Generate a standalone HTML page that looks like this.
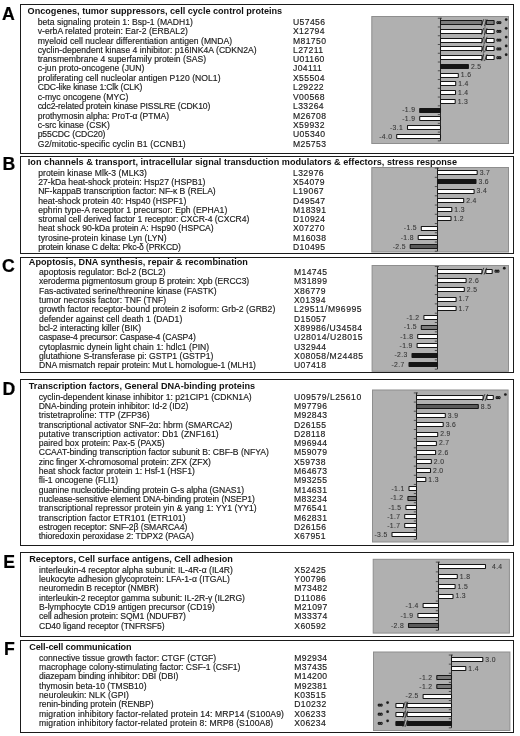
<!DOCTYPE html>
<html><head><meta charset="utf-8"><style>
html,body{margin:0;padding:0;background:#fff;}
body{width:520px;height:736px;overflow:hidden;position:relative;font-family:"Liberation Sans",sans-serif;color:#111;}
#w{position:absolute;left:0;top:0;width:520px;height:736px;will-change:transform;}
.a{position:absolute;white-space:nowrap;line-height:1;-webkit-text-stroke:0.15px #1a1a1a;}
.L{font-weight:bold;font-size:17.7px;color:#000;-webkit-text-stroke:0.2px #000;}
.h{font-weight:bold;font-size:9.12px;color:#111;-webkit-text-stroke:0;}
.i{font-size:8.61px;color:#1a1a1a;}
.c{font-size:8.6px;color:#1a1a1a;letter-spacing:0.38px;}
.box{position:absolute;border:1px solid #1a1a1a;box-sizing:border-box;}
svg{position:absolute;left:0;top:0;}
</style></head><body><div id="w">
<div class="a L" style="left:2px;top:6.07px">A</div>
<div class="box" style="left:20px;top:4px;width:494px;height:150px"></div>
<div class="a h" style="left:27.6px;top:7px;letter-spacing:-0.01px">Oncogenes, tumor suppressors, cell cycle control proteins</div>
<div class="a i" style="left:37.7px;top:18px;letter-spacing:0.026px">beta signaling protein 1: Bsp-1 (MADH1)</div>
<div class="a c" style="left:293.0px;top:18px">U57456</div>
<div class="a i" style="left:37.7px;top:27px;letter-spacing:0.03px">v-erbA related protein: Ear-2 (ERBAL2)</div>
<div class="a c" style="left:293.0px;top:27px">X12794</div>
<div class="a i" style="left:37.7px;top:37px;letter-spacing:0.024px">myeloid cell nuclear differentiation antigen (MNDA)</div>
<div class="a c" style="left:293.0px;top:37px">M81750</div>
<div class="a i" style="left:37.7px;top:46px;letter-spacing:0.013px">cyclin-dependent kinase 4 inhibitor: p16INK4A (CDKN2A)</div>
<div class="a c" style="left:293.0px;top:46px">L27211</div>
<div class="a i" style="left:37.7px;top:55px;letter-spacing:0.017px">transmembrane 4 superfamily protein (SAS)</div>
<div class="a c" style="left:293.0px;top:55px">U01160</div>
<div class="a i" style="left:37.7px;top:64px;letter-spacing:0.024px">c-jun proto-oncogene (JUN)</div>
<div class="a c" style="left:293.0px;top:64px">J04111</div>
<div class="a i" style="left:37.7px;top:74px;letter-spacing:0.038px">proliferating cell nucleolar antigen P120 (NOL1)</div>
<div class="a c" style="left:293.0px;top:74px">X55504</div>
<div class="a i" style="left:37.7px;top:83px;letter-spacing:-0.142px">CDC-like kinase 1:Clk (CLK)</div>
<div class="a c" style="left:293.0px;top:83px">L29222</div>
<div class="a i" style="left:37.7px;top:93px;letter-spacing:0.016px">c-myc oncogene (MYC)</div>
<div class="a c" style="left:293.0px;top:93px">V00568</div>
<div class="a i" style="left:37.7px;top:102px;letter-spacing:-0.119px">cdc2-related protein kinase PISSLRE (CDK10)</div>
<div class="a c" style="left:293.0px;top:102px">L33264</div>
<div class="a i" style="left:37.7px;top:112px;letter-spacing:-0.048px">prothymosin alpha: ProT-&alpha; (PTMA)</div>
<div class="a c" style="left:293.0px;top:112px">M26708</div>
<div class="a i" style="left:37.7px;top:121px;letter-spacing:0.029px">c-src kinase (CSK)</div>
<div class="a c" style="left:293.0px;top:121px">X59932</div>
<div class="a i" style="left:37.7px;top:130px;letter-spacing:-0.115px">p55CDC (CDC20)</div>
<div class="a c" style="left:293.0px;top:130px">U05340</div>
<div class="a i" style="left:37.7px;top:140px;letter-spacing:0.106px">G2/mitotic-specific cyclin B1 (CCNB1)</div>
<div class="a c" style="left:293.0px;top:140px">M25753</div>
<div class="a L" style="left:2.6px;top:155.77px">B</div>
<div class="box" style="left:20px;top:156px;width:494px;height:98px"></div>
<div class="a h" style="left:27.8px;top:158px;letter-spacing:0.015px">Ion channels &amp; transport, intracellular signal transduction modulators &amp; effectors, stress response</div>
<div class="a i" style="left:38.2px;top:169px;letter-spacing:0.05px">protein kinase Mlk-3 (MLK3)</div>
<div class="a c" style="left:293.0px;top:169px">L32976</div>
<div class="a i" style="left:38.2px;top:178px;letter-spacing:0.01px">27-kDa heat-shock protein: Hsp27 (HSPB1)</div>
<div class="a c" style="left:293.0px;top:178px">X54079</div>
<div class="a i" style="left:38.2px;top:187px;letter-spacing:-0.025px">NF-kappaB transcription factor: NF-&kappa; B (RELA)</div>
<div class="a c" style="left:293.0px;top:187px">L19067</div>
<div class="a i" style="left:38.2px;top:197px">heat-shock protein 40: Hsp40 (HSPF1)</div>
<div class="a c" style="left:293.0px;top:197px">D49547</div>
<div class="a i" style="left:38.2px;top:206px;letter-spacing:0.05px">ephrin type-A receptor 1 precursor: Eph (EPHA1)</div>
<div class="a c" style="left:293.0px;top:206px">M18391</div>
<div class="a i" style="left:38.2px;top:215px;letter-spacing:-0.034px">stromal cell derived factor 1 receptor: CXCR-4 (CXCR4)</div>
<div class="a c" style="left:293.0px;top:215px">D10924</div>
<div class="a i" style="left:38.2px;top:224px;letter-spacing:0.005px">heat shock 90-kDa protein A: Hsp90 (HSPCA)</div>
<div class="a c" style="left:293.0px;top:224px">X07270</div>
<div class="a i" style="left:38.2px;top:234px;letter-spacing:0.059px">tyrosine-protein kinase Lyn (LYN)</div>
<div class="a c" style="left:293.0px;top:234px">M16038</div>
<div class="a i" style="left:38.2px;top:243px;letter-spacing:-0.15px">protein kinase C delta: Pkc-&delta; (PRKCD)</div>
<div class="a c" style="left:293.0px;top:243px">D10495</div>
<div class="a L" style="left:2px;top:257.57px">C</div>
<div class="box" style="left:20px;top:257px;width:494px;height:116px"></div>
<div class="a h" style="left:28.8px;top:258px;letter-spacing:0.017px">Apoptosis, DNA synthesis, repair &amp; recombination</div>
<div class="a i" style="left:39.1px;top:268px;letter-spacing:-0.013px">apoptosis regulator: Bcl-2 (BCL2)</div>
<div class="a c" style="left:294.0px;top:268px">M14745</div>
<div class="a i" style="left:39.1px;top:277px;letter-spacing:-0.069px">xeroderma pigmentosum group B protein: Xpb (ERCC3)</div>
<div class="a c" style="left:294.0px;top:277px">M31899</div>
<div class="a i" style="left:39.1px;top:287px;letter-spacing:-0.014px">Fas-activated serine/threonine kinase (FASTK)</div>
<div class="a c" style="left:294.0px;top:287px">X86779</div>
<div class="a i" style="left:39.1px;top:296px;letter-spacing:0.019px">tumor necrosis factor: TNF (TNF)</div>
<div class="a c" style="left:294.0px;top:296px">X01394</div>
<div class="a i" style="left:39.1px;top:305px;letter-spacing:0.02px">growth factor receptor-bound protein 2 isoform: Grb-2 (GRB2)</div>
<div class="a c" style="left:294.0px;top:305px;letter-spacing:0.5px">L29511/M96995</div>
<div class="a i" style="left:39.1px;top:315px;letter-spacing:0.051px">defender against cell death 1 (DAD1)</div>
<div class="a c" style="left:294.0px;top:315px">D15057</div>
<div class="a i" style="left:39.1px;top:324px;letter-spacing:-0.024px">bcl-2 interacting killer (BIK)</div>
<div class="a c" style="left:294.0px;top:324px;letter-spacing:0.5px">X89986/U34584</div>
<div class="a i" style="left:39.1px;top:333px;letter-spacing:-0.116px">caspase-4 precursor: Caspase-4 (CASP4)</div>
<div class="a c" style="left:294.0px;top:333px;letter-spacing:0.5px">U28014/U28015</div>
<div class="a i" style="left:39.1px;top:343px;letter-spacing:0.034px">cytoplasmic dynein light chain 1: hdlc1 (PIN)</div>
<div class="a c" style="left:294.0px;top:343px">U32944</div>
<div class="a i" style="left:39.1px;top:352px">glutathione S-transferase pi: GSTP1 (GSTP1)</div>
<div class="a c" style="left:294.0px;top:352px;letter-spacing:0.5px">X08058/M24485</div>
<div class="a i" style="left:39.1px;top:361px;letter-spacing:-0.048px">DNA mismatch repair protein: Mut L homologue-1 (MLH1)</div>
<div class="a c" style="left:294.0px;top:361px">U07418</div>
<div class="a L" style="left:2.4px;top:381.17px">D</div>
<div class="box" style="left:20px;top:379px;width:494px;height:167px"></div>
<div class="a h" style="left:28.8px;top:382px;letter-spacing:0px">Transcription factors, General DNA-binding proteins</div>
<div class="a i" style="left:38.7px;top:393px">cyclin-dependent kinase inhibitor 1: p21CIP1 (CDKN1A)</div>
<div class="a c" style="left:294.0px;top:393px;letter-spacing:0.5px">U09579/L25610</div>
<div class="a i" style="left:38.7px;top:402px;letter-spacing:-0.033px">DNA-binding protein inhibitor: Id-2 (ID2)</div>
<div class="a c" style="left:294.0px;top:402px">M97796</div>
<div class="a i" style="left:38.7px;top:411px;letter-spacing:0.068px">tristetraproline: TTP (ZFP36)</div>
<div class="a c" style="left:294.0px;top:411px">M92843</div>
<div class="a i" style="left:38.7px;top:421px;letter-spacing:-0.021px">transcriptional activator SNF-2&alpha;: hbrm (SMARCA2)</div>
<div class="a c" style="left:294.0px;top:421px">D26155</div>
<div class="a i" style="left:38.7px;top:430px;letter-spacing:0.136px">putative transcription activator: Db1 (ZNF161)</div>
<div class="a c" style="left:294.0px;top:430px">D28118</div>
<div class="a i" style="left:38.7px;top:439px;letter-spacing:0.016px">paired box protein: Pax-5 (PAX5)</div>
<div class="a c" style="left:294.0px;top:439px">M96944</div>
<div class="a i" style="left:38.7px;top:448px;letter-spacing:-0.012px">CCAAT-binding transcription factor subunit B: CBF-B (NFYA)</div>
<div class="a c" style="left:294.0px;top:448px">M59079</div>
<div class="a i" style="left:38.7px;top:458px;letter-spacing:-0.081px">zinc finger X-chromosomal protein: ZFX (ZFX)</div>
<div class="a c" style="left:294.0px;top:458px">X59738</div>
<div class="a i" style="left:38.7px;top:467px;letter-spacing:-0.01px">heat shock factor protein 1: Hsf-1 (HSF1)</div>
<div class="a c" style="left:294.0px;top:467px">M64673</div>
<div class="a i" style="left:38.7px;top:476px;letter-spacing:0.005px">fli-1 oncogene (FLI1)</div>
<div class="a c" style="left:294.0px;top:476px">M93255</div>
<div class="a i" style="left:38.7px;top:486px;letter-spacing:-0.057px">guanine nucleotide-binding protein G-s alpha (GNAS1)</div>
<div class="a c" style="left:294.0px;top:486px">M14631</div>
<div class="a i" style="left:38.7px;top:495px;letter-spacing:-0.066px">nuclease-sensitive element DNA-binding protein (NSEP1)</div>
<div class="a c" style="left:294.0px;top:495px">M83234</div>
<div class="a i" style="left:38.7px;top:504px;letter-spacing:0.039px">transcriptional repressor protein yin &amp; yang 1: YY1 (YY1)</div>
<div class="a c" style="left:294.0px;top:504px">M76541</div>
<div class="a i" style="left:38.7px;top:514px;letter-spacing:0.074px">transcription factor ETR101 (ETR101)</div>
<div class="a c" style="left:294.0px;top:514px">M62831</div>
<div class="a i" style="left:38.7px;top:523px;letter-spacing:-0.088px">estrogen receptor: SNF-2&beta; (SMARCA4)</div>
<div class="a c" style="left:294.0px;top:523px">D26156</div>
<div class="a i" style="left:38.7px;top:532px;letter-spacing:-0.057px">thioredoxin peroxidase 2: TDPX2 (PAGA)</div>
<div class="a c" style="left:294.0px;top:532px">X67951</div>
<div class="a L" style="left:3.2px;top:553.87px">E</div>
<div class="box" style="left:20px;top:552px;width:494px;height:85px"></div>
<div class="a h" style="left:29.2px;top:555px;letter-spacing:-0.039px">Receptors, Cell surface antigens, Cell adhesion</div>
<div class="a i" style="left:39.1px;top:566px;letter-spacing:-0.006px">interleukin-4 receptor alpha subunit: IL-4R-&alpha; (IL4R)</div>
<div class="a c" style="left:294.3px;top:566px">X52425</div>
<div class="a i" style="left:39.1px;top:575px">leukocyte adhesion glycoprotein: LFA-1-&alpha; (ITGAL)</div>
<div class="a c" style="left:294.3px;top:575px">Y00796</div>
<div class="a i" style="left:39.1px;top:584px;letter-spacing:-0.052px">neuromedin B receptor (NMBR)</div>
<div class="a c" style="left:294.3px;top:584px">M73482</div>
<div class="a i" style="left:39.1px;top:594px;letter-spacing:-0.037px">interleukin-2 receptor gamma subunit: IL-2R-&gamma; (IL2RG)</div>
<div class="a c" style="left:294.3px;top:594px">D11086</div>
<div class="a i" style="left:39.1px;top:603px">B-lymphocyte CD19 antigen precursor (CD19)</div>
<div class="a c" style="left:294.3px;top:603px">M21097</div>
<div class="a i" style="left:39.1px;top:612px;letter-spacing:-0.106px">cell adhesion protein: SQM1 (NDUFB7)</div>
<div class="a c" style="left:294.3px;top:612px">M33374</div>
<div class="a i" style="left:39.1px;top:622px;letter-spacing:-0.086px">CD40 ligand receptor (TNFRSF5)</div>
<div class="a c" style="left:294.3px;top:622px">X60592</div>
<div class="a L" style="left:4px;top:641.27px">F</div>
<div class="box" style="left:20px;top:640px;width:494px;height:93px"></div>
<div class="a h" style="left:29.2px;top:643px;letter-spacing:-0.109px">Cell-cell communication</div>
<div class="a i" style="left:39.05px;top:654px;letter-spacing:-0.012px">connective tissue growth factor: CTGF (CTGF)</div>
<div class="a c" style="left:294.2px;top:654px">M92934</div>
<div class="a i" style="left:39.05px;top:663px;letter-spacing:-0.022px">macrophage colony-stimulating factor: CSF-1 (CSF1)</div>
<div class="a c" style="left:294.2px;top:663px">M37435</div>
<div class="a i" style="left:39.05px;top:672px;letter-spacing:-0.058px">diazepam binding inhibitor: DBI (DBI)</div>
<div class="a c" style="left:294.2px;top:672px">M14200</div>
<div class="a i" style="left:39.05px;top:682px">thymosin beta-10 (TMSB10)</div>
<div class="a c" style="left:294.2px;top:682px">M92381</div>
<div class="a i" style="left:39.05px;top:691px;letter-spacing:0.043px">neuroleukin: NLK (GPI)</div>
<div class="a c" style="left:294.2px;top:691px">K03515</div>
<div class="a i" style="left:39.05px;top:700px;letter-spacing:-0.057px">renin-binding protein (RENBP)</div>
<div class="a c" style="left:294.2px;top:700px">D10232</div>
<div class="a i" style="left:39.05px;top:710px;letter-spacing:0.115px">migration inhibitory factor-related protein 14: MRP14 (S100A9)</div>
<div class="a c" style="left:294.2px;top:710px">X06233</div>
<div class="a i" style="left:39.05px;top:719px;letter-spacing:0.098px">migration inhibitory factor-related protein 8: MRP8 (S100A8)</div>
<div class="a c" style="left:294.2px;top:719px">X06234</div>
<svg width="520" height="736" viewBox="0 0 520 736" font-family="Liberation Sans" font-size="6.8" fill="#383838" letter-spacing="0.35" stroke="#383838" stroke-width="0.1">
<rect x="371.8" y="16.5" width="136.7" height="127" fill="#b0b0b0" stroke="#8e8e8e" stroke-width="1"/>
<line x1="440.5" y1="17.92" x2="440.5" y2="140.86" stroke="#262626" stroke-width="1"/>
<line x1="437.8" y1="18.22" x2="442" y2="18.22" stroke="#333" stroke-width="0.8"/>
<line x1="437.8" y1="26.98" x2="440.4" y2="26.98" stroke="#333" stroke-width="0.8"/>
<line x1="437.8" y1="35.74" x2="440.4" y2="35.74" stroke="#333" stroke-width="0.8"/>
<line x1="437.8" y1="44.5" x2="440.4" y2="44.5" stroke="#333" stroke-width="0.8"/>
<line x1="437.8" y1="53.26" x2="440.4" y2="53.26" stroke="#333" stroke-width="0.8"/>
<line x1="437.8" y1="62.02" x2="440.4" y2="62.02" stroke="#333" stroke-width="0.8"/>
<line x1="437.8" y1="70.78" x2="440.4" y2="70.78" stroke="#333" stroke-width="0.8"/>
<line x1="437.8" y1="79.54" x2="440.4" y2="79.54" stroke="#333" stroke-width="0.8"/>
<line x1="437.8" y1="88.3" x2="440.4" y2="88.3" stroke="#333" stroke-width="0.8"/>
<line x1="437.8" y1="97.06" x2="440.4" y2="97.06" stroke="#333" stroke-width="0.8"/>
<line x1="437.8" y1="105.82" x2="440.4" y2="105.82" stroke="#333" stroke-width="0.8"/>
<line x1="437.8" y1="114.58" x2="440.4" y2="114.58" stroke="#333" stroke-width="0.8"/>
<line x1="437.8" y1="123.34" x2="440.4" y2="123.34" stroke="#333" stroke-width="0.8"/>
<line x1="437.8" y1="132.1" x2="440.4" y2="132.1" stroke="#333" stroke-width="0.8"/>
<line x1="437.8" y1="140.86" x2="440.4" y2="140.86" stroke="#333" stroke-width="0.8"/>
<line x1="485.45" y1="19.1" x2="482.85" y2="61.14" stroke="#3a3a3a" stroke-width="0.6"/>
<rect x="440.5" y="20.5" width="41.5" height="4" fill="#7c7c7c" stroke="#151515" stroke-width="1.05" rx="0.3"/>
<rect x="486.3" y="20.5" width="7.8" height="4" fill="#7c7c7c" stroke="#151515" stroke-width="1.05" rx="0.3"/>
<path d="M481.2 26 L483.8 19.2 M484.5 26 L487.1 19.2" stroke="#1e1e1e" stroke-width="0.75" fill="none"/>
<g fill="none" stroke="#1a1a1a" stroke-width="1.15"><ellipse cx="497.85" cy="22.6" rx="1.0" ry="1.05"/><ellipse cx="499.95" cy="22.6" rx="1.0" ry="1.05"/></g>
<circle cx="506.2" cy="19.6" r="1.35" fill="#1a1a1a"/>
<rect x="440.5" y="29.5" width="41.5" height="4" fill="#fff" stroke="#151515" stroke-width="1.05" rx="0.3"/>
<rect x="486.3" y="29.5" width="7.8" height="4" fill="#fff" stroke="#151515" stroke-width="1.05" rx="0.3"/>
<path d="M481.2 34.76 L483.8 27.96 M484.5 34.76 L487.1 27.96" stroke="#1e1e1e" stroke-width="0.75" fill="none"/>
<g fill="none" stroke="#1a1a1a" stroke-width="1.15"><ellipse cx="497.85" cy="31.36" rx="1.0" ry="1.05"/><ellipse cx="499.95" cy="31.36" rx="1.0" ry="1.05"/></g>
<circle cx="506.2" cy="28.36" r="1.35" fill="#1a1a1a"/>
<rect x="440.5" y="38.5" width="41.5" height="4" fill="#fff" stroke="#151515" stroke-width="1.05" rx="0.3"/>
<rect x="486.3" y="38.5" width="7.8" height="4" fill="#fff" stroke="#151515" stroke-width="1.05" rx="0.3"/>
<path d="M481.2 43.52 L483.8 36.72 M484.5 43.52 L487.1 36.72" stroke="#1e1e1e" stroke-width="0.75" fill="none"/>
<g fill="none" stroke="#1a1a1a" stroke-width="1.15"><ellipse cx="497.85" cy="40.12" rx="1.0" ry="1.05"/><ellipse cx="499.95" cy="40.12" rx="1.0" ry="1.05"/></g>
<circle cx="506.2" cy="37.12" r="1.35" fill="#1a1a1a"/>
<rect x="440.5" y="46.5" width="41.5" height="4" fill="#fff" stroke="#151515" stroke-width="1.05" rx="0.3"/>
<rect x="486.3" y="46.5" width="7.8" height="4" fill="#fff" stroke="#151515" stroke-width="1.05" rx="0.3"/>
<path d="M481.2 52.28 L483.8 45.48 M484.5 52.28 L487.1 45.48" stroke="#1e1e1e" stroke-width="0.75" fill="none"/>
<g fill="none" stroke="#1a1a1a" stroke-width="1.15"><ellipse cx="497.85" cy="48.88" rx="1.0" ry="1.05"/><ellipse cx="499.95" cy="48.88" rx="1.0" ry="1.05"/></g>
<circle cx="506.2" cy="45.88" r="1.35" fill="#1a1a1a"/>
<rect x="440.5" y="55.5" width="41.5" height="4" fill="#fff" stroke="#151515" stroke-width="1.05" rx="0.3"/>
<rect x="486.3" y="55.5" width="7.8" height="4" fill="#fff" stroke="#151515" stroke-width="1.05" rx="0.3"/>
<path d="M481.2 61.04 L483.8 54.24 M484.5 61.04 L487.1 54.24" stroke="#1e1e1e" stroke-width="0.75" fill="none"/>
<g fill="none" stroke="#1a1a1a" stroke-width="1.15"><ellipse cx="497.85" cy="57.64" rx="1.0" ry="1.05"/><ellipse cx="499.95" cy="57.64" rx="1.0" ry="1.05"/></g>
<circle cx="506.2" cy="54.64" r="1.35" fill="#1a1a1a"/>
<rect x="440.5" y="64.5" width="27.9" height="4" fill="#141414" stroke="#151515" stroke-width="1.05" rx="0.3"/>
<text x="470.9" y="68.6">2.5</text>
<rect x="440.5" y="73.5" width="17.8" height="4" fill="#fff" stroke="#151515" stroke-width="1.05" rx="0.3"/>
<text x="460.8" y="77.36">1.6</text>
<rect x="440.5" y="81.5" width="15.2" height="4" fill="#fff" stroke="#151515" stroke-width="1.05" rx="0.3"/>
<text x="458.2" y="86.12">1.4</text>
<rect x="440.5" y="90.5" width="15" height="4" fill="#fff" stroke="#151515" stroke-width="1.05" rx="0.3"/>
<text x="458" y="94.88">1.4</text>
<rect x="440.5" y="99.5" width="14.7" height="4" fill="#fff" stroke="#151515" stroke-width="1.05" rx="0.3"/>
<text x="457.7" y="103.64">1.3</text>
<rect x="419.7" y="108.5" width="20.8" height="4" fill="#141414" stroke="#151515" stroke-width="1.05" rx="0.3"/>
<text x="415.3" y="112.4" text-anchor="end">-1.9</text>
<rect x="419.7" y="116.5" width="20.8" height="4" fill="#fff" stroke="#151515" stroke-width="1.05" rx="0.3"/>
<text x="415.3" y="121.16" text-anchor="end">-1.9</text>
<rect x="407.5" y="125.5" width="33" height="4" fill="#fff" stroke="#151515" stroke-width="1.05" rx="0.3"/>
<text x="403.1" y="129.92" text-anchor="end">-3.1</text>
<rect x="396.7" y="134.5" width="43.8" height="4" fill="#fff" stroke="#151515" stroke-width="1.05" rx="0.3"/>
<text x="392.3" y="138.68" text-anchor="end">-4.0</text>
<rect x="371.8" y="167.5" width="136.7" height="84.5" fill="#b0b0b0" stroke="#8e8e8e" stroke-width="1"/>
<line x1="437.5" y1="167.78" x2="437.5" y2="251.24" stroke="#262626" stroke-width="1"/>
<line x1="434.8" y1="168.08" x2="439" y2="168.08" stroke="#333" stroke-width="0.8"/>
<line x1="434.8" y1="177.32" x2="437.4" y2="177.32" stroke="#333" stroke-width="0.8"/>
<line x1="434.8" y1="186.56" x2="437.4" y2="186.56" stroke="#333" stroke-width="0.8"/>
<line x1="434.8" y1="195.8" x2="437.4" y2="195.8" stroke="#333" stroke-width="0.8"/>
<line x1="434.8" y1="205.04" x2="437.4" y2="205.04" stroke="#333" stroke-width="0.8"/>
<line x1="434.8" y1="214.28" x2="437.4" y2="214.28" stroke="#333" stroke-width="0.8"/>
<line x1="434.8" y1="223.52" x2="437.4" y2="223.52" stroke="#333" stroke-width="0.8"/>
<line x1="434.8" y1="232.76" x2="437.4" y2="232.76" stroke="#333" stroke-width="0.8"/>
<line x1="434.8" y1="242" x2="437.4" y2="242" stroke="#333" stroke-width="0.8"/>
<line x1="434.8" y1="251.24" x2="437.4" y2="251.24" stroke="#333" stroke-width="0.8"/>
<rect x="437.5" y="170.5" width="39.7" height="4" fill="#fff" stroke="#151515" stroke-width="1.05" rx="0.3"/>
<text x="479.7" y="174.9">3.7</text>
<rect x="437.5" y="179.5" width="38.5" height="4" fill="#141414" stroke="#151515" stroke-width="1.05" rx="0.3"/>
<text x="478.5" y="184.14">3.6</text>
<rect x="437.5" y="189.5" width="36.6" height="4" fill="#fff" stroke="#151515" stroke-width="1.05" rx="0.3"/>
<text x="476.6" y="193.38">3.4</text>
<rect x="437.5" y="198.5" width="26.2" height="4" fill="#fff" stroke="#151515" stroke-width="1.05" rx="0.3"/>
<text x="466.2" y="202.62">2.4</text>
<rect x="437.5" y="207.5" width="14.3" height="4" fill="#fff" stroke="#151515" stroke-width="1.05" rx="0.3"/>
<text x="454.3" y="211.86">1.3</text>
<rect x="437.5" y="216.5" width="13.5" height="4" fill="#fff" stroke="#151515" stroke-width="1.05" rx="0.3"/>
<text x="453.5" y="221.1">1.2</text>
<rect x="421.3" y="226.5" width="16.2" height="4" fill="#fff" stroke="#151515" stroke-width="1.05" rx="0.3"/>
<text x="416.9" y="230.34" text-anchor="end">-1.5</text>
<rect x="418.2" y="235.5" width="19.3" height="4" fill="#fff" stroke="#151515" stroke-width="1.05" rx="0.3"/>
<text x="413.8" y="239.58" text-anchor="end">-1.8</text>
<rect x="410.2" y="244.5" width="27.3" height="4" fill="#5a5a5a" stroke="#151515" stroke-width="1.05" rx="0.3"/>
<text x="405.8" y="248.82" text-anchor="end">-2.5</text>
<rect x="372.1" y="265.5" width="136.4" height="105.8" fill="#b0b0b0" stroke="#8e8e8e" stroke-width="1"/>
<line x1="437.5" y1="266.23" x2="437.5" y2="369.16" stroke="#262626" stroke-width="1"/>
<line x1="434.8" y1="266.53" x2="439" y2="266.53" stroke="#333" stroke-width="0.8"/>
<line x1="434.8" y1="275.87" x2="437.4" y2="275.87" stroke="#333" stroke-width="0.8"/>
<line x1="434.8" y1="285.19" x2="437.4" y2="285.19" stroke="#333" stroke-width="0.8"/>
<line x1="434.8" y1="294.52" x2="437.4" y2="294.52" stroke="#333" stroke-width="0.8"/>
<line x1="434.8" y1="303.86" x2="437.4" y2="303.86" stroke="#333" stroke-width="0.8"/>
<line x1="434.8" y1="313.19" x2="437.4" y2="313.19" stroke="#333" stroke-width="0.8"/>
<line x1="434.8" y1="322.51" x2="437.4" y2="322.51" stroke="#333" stroke-width="0.8"/>
<line x1="434.8" y1="331.84" x2="437.4" y2="331.84" stroke="#333" stroke-width="0.8"/>
<line x1="434.8" y1="341.17" x2="437.4" y2="341.17" stroke="#333" stroke-width="0.8"/>
<line x1="434.8" y1="350.5" x2="437.4" y2="350.5" stroke="#333" stroke-width="0.8"/>
<line x1="434.8" y1="359.83" x2="437.4" y2="359.83" stroke="#333" stroke-width="0.8"/>
<line x1="434.8" y1="369.16" x2="437.4" y2="369.16" stroke="#333" stroke-width="0.8"/>
<rect x="437.5" y="269.5" width="44.5" height="4" fill="#fff" stroke="#151515" stroke-width="1.05" rx="0.3"/>
<rect x="485.9" y="269.5" width="6.3" height="4" fill="#fff" stroke="#151515" stroke-width="1.05" rx="0.3"/>
<path d="M481.2 274.6 L483.8 267.8 M484.1 274.6 L486.7 267.8" stroke="#1e1e1e" stroke-width="0.75" fill="none"/>
<g fill="none" stroke="#1a1a1a" stroke-width="1.15"><ellipse cx="495.95" cy="271.2" rx="1.0" ry="1.05"/><ellipse cx="498.05" cy="271.2" rx="1.0" ry="1.05"/></g>
<circle cx="504.3" cy="268.2" r="1.35" fill="#1a1a1a"/>
<rect x="437.5" y="278.5" width="28.6" height="4" fill="#fff" stroke="#151515" stroke-width="1.05" rx="0.3"/>
<text x="468.6" y="282.73">2.6</text>
<rect x="437.5" y="287.5" width="26.8" height="4" fill="#fff" stroke="#151515" stroke-width="1.05" rx="0.3"/>
<text x="466.8" y="292.06">2.5</text>
<rect x="437.5" y="297.5" width="18.6" height="4" fill="#fff" stroke="#151515" stroke-width="1.05" rx="0.3"/>
<text x="458.6" y="301.39">1.7</text>
<rect x="437.5" y="306.5" width="18.6" height="4" fill="#fff" stroke="#151515" stroke-width="1.05" rx="0.3"/>
<text x="458.6" y="310.72">1.7</text>
<rect x="423.9" y="315.5" width="13.6" height="4" fill="#fff" stroke="#151515" stroke-width="1.05" rx="0.3"/>
<text x="419.5" y="320.05" text-anchor="end">-1.2</text>
<rect x="421.3" y="325.5" width="16.2" height="4" fill="#7c7c7c" stroke="#151515" stroke-width="1.05" rx="0.3"/>
<text x="416.9" y="329.38" text-anchor="end">-1.5</text>
<rect x="417.7" y="334.5" width="19.8" height="4" fill="#fff" stroke="#151515" stroke-width="1.05" rx="0.3"/>
<text x="413.3" y="338.71" text-anchor="end">-1.8</text>
<rect x="417.1" y="343.5" width="20.4" height="4" fill="#fff" stroke="#151515" stroke-width="1.05" rx="0.3"/>
<text x="412.7" y="348.04" text-anchor="end">-1.9</text>
<rect x="412" y="353.5" width="25.5" height="4" fill="#141414" stroke="#151515" stroke-width="1.05" rx="0.3"/>
<text x="407.6" y="357.37" text-anchor="end">-2.3</text>
<rect x="409" y="362.5" width="28.5" height="4" fill="#141414" stroke="#151515" stroke-width="1.05" rx="0.3"/>
<text x="404.6" y="366.7" text-anchor="end">-2.7</text>
<rect x="372.5" y="390" width="135.6" height="152" fill="#b0b0b0" stroke="#8e8e8e" stroke-width="1"/>
<line x1="416.5" y1="392.62" x2="416.5" y2="539.33" stroke="#262626" stroke-width="1"/>
<line x1="413.8" y1="392.93" x2="418" y2="392.93" stroke="#333" stroke-width="0.8"/>
<line x1="413.8" y1="402.07" x2="416.4" y2="402.07" stroke="#333" stroke-width="0.8"/>
<line x1="413.8" y1="411.23" x2="416.4" y2="411.23" stroke="#333" stroke-width="0.8"/>
<line x1="413.8" y1="420.38" x2="416.4" y2="420.38" stroke="#333" stroke-width="0.8"/>
<line x1="413.8" y1="429.52" x2="416.4" y2="429.52" stroke="#333" stroke-width="0.8"/>
<line x1="413.8" y1="438.68" x2="416.4" y2="438.68" stroke="#333" stroke-width="0.8"/>
<line x1="413.8" y1="447.82" x2="416.4" y2="447.82" stroke="#333" stroke-width="0.8"/>
<line x1="413.8" y1="456.98" x2="416.4" y2="456.98" stroke="#333" stroke-width="0.8"/>
<line x1="413.8" y1="466.12" x2="416.4" y2="466.12" stroke="#333" stroke-width="0.8"/>
<line x1="413.8" y1="475.27" x2="416.4" y2="475.27" stroke="#333" stroke-width="0.8"/>
<line x1="413.8" y1="484.43" x2="416.4" y2="484.43" stroke="#333" stroke-width="0.8"/>
<line x1="413.8" y1="493.57" x2="416.4" y2="493.57" stroke="#333" stroke-width="0.8"/>
<line x1="413.8" y1="502.73" x2="416.4" y2="502.73" stroke="#333" stroke-width="0.8"/>
<line x1="413.8" y1="511.88" x2="416.4" y2="511.88" stroke="#333" stroke-width="0.8"/>
<line x1="413.8" y1="521.02" x2="416.4" y2="521.02" stroke="#333" stroke-width="0.8"/>
<line x1="413.8" y1="530.17" x2="416.4" y2="530.17" stroke="#333" stroke-width="0.8"/>
<line x1="413.8" y1="539.33" x2="416.4" y2="539.33" stroke="#333" stroke-width="0.8"/>
<rect x="416.5" y="395.5" width="66.6" height="4" fill="#fff" stroke="#151515" stroke-width="1.05" rx="0.3"/>
<rect x="486.9" y="395.5" width="6.4" height="4" fill="#fff" stroke="#151515" stroke-width="1.05" rx="0.3"/>
<path d="M482.3 400.9 L484.9 394.1 M485.1 400.9 L487.7 394.1" stroke="#1e1e1e" stroke-width="0.75" fill="none"/>
<g fill="none" stroke="#1a1a1a" stroke-width="1.15"><ellipse cx="497.05" cy="397.5" rx="1.0" ry="1.05"/><ellipse cx="499.15" cy="397.5" rx="1.0" ry="1.05"/></g>
<circle cx="505.4" cy="394.5" r="1.35" fill="#1a1a1a"/>
<rect x="416.5" y="404.5" width="61.8" height="4" fill="#5a5a5a" stroke="#151515" stroke-width="1.05" rx="0.3"/>
<text x="480.8" y="408.85">8.5</text>
<rect x="416.5" y="413.5" width="28.8" height="4" fill="#fff" stroke="#151515" stroke-width="1.05" rx="0.3"/>
<text x="447.8" y="418">3.9</text>
<rect x="416.5" y="422.5" width="26.7" height="4" fill="#fff" stroke="#151515" stroke-width="1.05" rx="0.3"/>
<text x="445.7" y="427.15">3.6</text>
<rect x="416.5" y="432.5" width="21.2" height="4" fill="#fff" stroke="#151515" stroke-width="1.05" rx="0.3"/>
<text x="440.2" y="436.3">2.9</text>
<rect x="416.5" y="441.5" width="19.9" height="4" fill="#fff" stroke="#151515" stroke-width="1.05" rx="0.3"/>
<text x="438.9" y="445.45">2.7</text>
<rect x="416.5" y="450.5" width="19.1" height="4" fill="#fff" stroke="#151515" stroke-width="1.05" rx="0.3"/>
<text x="438.1" y="454.6">2.6</text>
<rect x="416.5" y="459.5" width="14.8" height="4" fill="#fff" stroke="#151515" stroke-width="1.05" rx="0.3"/>
<text x="433.8" y="463.75">2.0</text>
<rect x="416.5" y="468.5" width="14" height="4" fill="#fff" stroke="#151515" stroke-width="1.05" rx="0.3"/>
<text x="433" y="472.9">2.0</text>
<rect x="416.5" y="477.5" width="9.3" height="4" fill="#fff" stroke="#151515" stroke-width="1.05" rx="0.3"/>
<text x="428.3" y="482.05">1.3</text>
<rect x="409" y="486.5" width="7.5" height="4" fill="#fff" stroke="#151515" stroke-width="1.05" rx="0.3"/>
<text x="404.6" y="491.2" text-anchor="end">-1.1</text>
<rect x="407.9" y="496.5" width="8.6" height="4" fill="#7c7c7c" stroke="#151515" stroke-width="1.05" rx="0.3"/>
<text x="403.5" y="500.35" text-anchor="end">-1.2</text>
<rect x="405.9" y="505.5" width="10.6" height="4" fill="#fff" stroke="#151515" stroke-width="1.05" rx="0.3"/>
<text x="401.5" y="509.5" text-anchor="end">-1.5</text>
<rect x="404.7" y="514.5" width="11.8" height="4" fill="#fff" stroke="#151515" stroke-width="1.05" rx="0.3"/>
<text x="400.3" y="518.65" text-anchor="end">-1.7</text>
<rect x="404.7" y="523.5" width="11.8" height="4" fill="#fff" stroke="#151515" stroke-width="1.05" rx="0.3"/>
<text x="400.3" y="527.8" text-anchor="end">-1.7</text>
<rect x="392" y="532.5" width="24.5" height="4" fill="#fff" stroke="#151515" stroke-width="1.05" rx="0.3"/>
<text x="387.6" y="536.95" text-anchor="end">-3.5</text>
<rect x="373.2" y="559.3" width="136.2" height="73.8" fill="#b0b0b0" stroke="#8e8e8e" stroke-width="1"/>
<line x1="438.5" y1="561.84" x2="438.5" y2="630.25" stroke="#262626" stroke-width="1"/>
<line x1="435.8" y1="562.13" x2="440" y2="562.13" stroke="#333" stroke-width="0.8"/>
<line x1="435.8" y1="571.87" x2="438.4" y2="571.87" stroke="#333" stroke-width="0.8"/>
<line x1="435.8" y1="581.6" x2="438.4" y2="581.6" stroke="#333" stroke-width="0.8"/>
<line x1="435.8" y1="591.33" x2="438.4" y2="591.33" stroke="#333" stroke-width="0.8"/>
<line x1="435.8" y1="601.05" x2="438.4" y2="601.05" stroke="#333" stroke-width="0.8"/>
<line x1="435.8" y1="610.78" x2="438.4" y2="610.78" stroke="#333" stroke-width="0.8"/>
<line x1="435.8" y1="620.51" x2="438.4" y2="620.51" stroke="#333" stroke-width="0.8"/>
<line x1="435.8" y1="630.25" x2="438.4" y2="630.25" stroke="#333" stroke-width="0.8"/>
<rect x="438.5" y="564.5" width="47" height="4" fill="#fff" stroke="#151515" stroke-width="1.05" rx="0.3"/>
<text x="492" y="569.2">4.4</text>
<rect x="438.5" y="574.5" width="18.8" height="4" fill="#fff" stroke="#151515" stroke-width="1.05" rx="0.3"/>
<text x="459.8" y="578.93">1.8</text>
<rect x="438.5" y="584.5" width="16.6" height="4" fill="#fff" stroke="#151515" stroke-width="1.05" rx="0.3"/>
<text x="457.6" y="588.66">1.5</text>
<rect x="438.5" y="594.5" width="14.5" height="4" fill="#fff" stroke="#151515" stroke-width="1.05" rx="0.3"/>
<text x="455.5" y="598.39">1.3</text>
<rect x="423.1" y="603.5" width="15.4" height="4" fill="#fff" stroke="#151515" stroke-width="1.05" rx="0.3"/>
<text x="418.7" y="608.12" text-anchor="end">-1.4</text>
<rect x="417.9" y="613.5" width="20.6" height="4" fill="#fff" stroke="#151515" stroke-width="1.05" rx="0.3"/>
<text x="413.5" y="617.85" text-anchor="end">-1.9</text>
<rect x="408.5" y="623.5" width="30" height="4" fill="#5a5a5a" stroke="#151515" stroke-width="1.05" rx="0.3"/>
<text x="404.1" y="627.58" text-anchor="end">-2.8</text>
<rect x="373.5" y="652" width="136.4" height="78.5" fill="#b0b0b0" stroke="#8e8e8e" stroke-width="1"/>
<line x1="451.5" y1="654.75" x2="451.5" y2="727.85" stroke="#262626" stroke-width="1"/>
<line x1="448.8" y1="655.05" x2="453" y2="655.05" stroke="#333" stroke-width="0.8"/>
<line x1="448.8" y1="664.15" x2="451.4" y2="664.15" stroke="#333" stroke-width="0.8"/>
<line x1="448.8" y1="673.25" x2="451.4" y2="673.25" stroke="#333" stroke-width="0.8"/>
<line x1="448.8" y1="682.35" x2="451.4" y2="682.35" stroke="#333" stroke-width="0.8"/>
<line x1="448.8" y1="691.45" x2="451.4" y2="691.45" stroke="#333" stroke-width="0.8"/>
<line x1="448.8" y1="700.55" x2="451.4" y2="700.55" stroke="#333" stroke-width="0.8"/>
<line x1="448.8" y1="709.65" x2="451.4" y2="709.65" stroke="#333" stroke-width="0.8"/>
<line x1="448.8" y1="718.75" x2="451.4" y2="718.75" stroke="#333" stroke-width="0.8"/>
<line x1="448.8" y1="727.85" x2="451.4" y2="727.85" stroke="#333" stroke-width="0.8"/>
<line x1="406.6" y1="701.6" x2="404" y2="726.8" stroke="#3a3a3a" stroke-width="0.6"/>
<rect x="451.5" y="657.5" width="31.3" height="4" fill="#fff" stroke="#151515" stroke-width="1.05" rx="0.3"/>
<text x="485.3" y="661.8">3.0</text>
<rect x="451.5" y="666.5" width="14.3" height="4" fill="#fff" stroke="#151515" stroke-width="1.05" rx="0.3"/>
<text x="468.3" y="670.9">1.4</text>
<rect x="436.8" y="675.5" width="14.7" height="4" fill="#7c7c7c" stroke="#151515" stroke-width="1.05" rx="0.3"/>
<text x="432.4" y="680" text-anchor="end">-1.2</text>
<rect x="436.8" y="684.5" width="14.7" height="4" fill="#7c7c7c" stroke="#151515" stroke-width="1.05" rx="0.3"/>
<text x="432.4" y="689.1" text-anchor="end">-1.2</text>
<rect x="423.1" y="694.5" width="28.4" height="4" fill="#fff" stroke="#151515" stroke-width="1.05" rx="0.3"/>
<text x="418.7" y="698.2" text-anchor="end">-2.5</text>
<rect x="395.9" y="703.5" width="7.6" height="4" fill="#fff" stroke="#151515" stroke-width="1.05" rx="0.3"/>
<rect x="407.1" y="703.5" width="44.4" height="4" fill="#fff" stroke="#151515" stroke-width="1.05" rx="0.3"/>
<path d="M402.7 708.5 L405.3 701.7 M405.3 708.5 L407.9 701.7" stroke="#1e1e1e" stroke-width="0.75" fill="none"/>
<g fill="none" stroke="#1a1a1a" stroke-width="1.15"><ellipse cx="379.15" cy="705.1" rx="1.0" ry="1.05"/><ellipse cx="381.25" cy="705.1" rx="1.0" ry="1.05"/></g>
<circle cx="387.6" cy="702.6" r="1.35" fill="#1a1a1a"/>
<rect x="395.9" y="712.5" width="7.6" height="4" fill="#fff" stroke="#151515" stroke-width="1.05" rx="0.3"/>
<rect x="407.1" y="712.5" width="44.4" height="4" fill="#fff" stroke="#151515" stroke-width="1.05" rx="0.3"/>
<path d="M402.7 717.6 L405.3 710.8 M405.3 717.6 L407.9 710.8" stroke="#1e1e1e" stroke-width="0.75" fill="none"/>
<g fill="none" stroke="#1a1a1a" stroke-width="1.15"><ellipse cx="379.15" cy="714.2" rx="1.0" ry="1.05"/><ellipse cx="381.25" cy="714.2" rx="1.0" ry="1.05"/></g>
<circle cx="387.6" cy="711.7" r="1.35" fill="#1a1a1a"/>
<rect x="395.9" y="721.5" width="7.6" height="4" fill="#141414" stroke="#151515" stroke-width="1.05" rx="0.3"/>
<rect x="407.1" y="721.5" width="44.4" height="4" fill="#141414" stroke="#151515" stroke-width="1.05" rx="0.3"/>
<path d="M402.7 726.7 L405.3 719.9 M405.3 726.7 L407.9 719.9" stroke="#1e1e1e" stroke-width="0.75" fill="none"/>
<g fill="none" stroke="#1a1a1a" stroke-width="1.15"><ellipse cx="379.15" cy="723.3" rx="1.0" ry="1.05"/><ellipse cx="381.25" cy="723.3" rx="1.0" ry="1.05"/></g>
<circle cx="387.6" cy="720.8" r="1.35" fill="#1a1a1a"/>
</svg>
</div></body></html>
